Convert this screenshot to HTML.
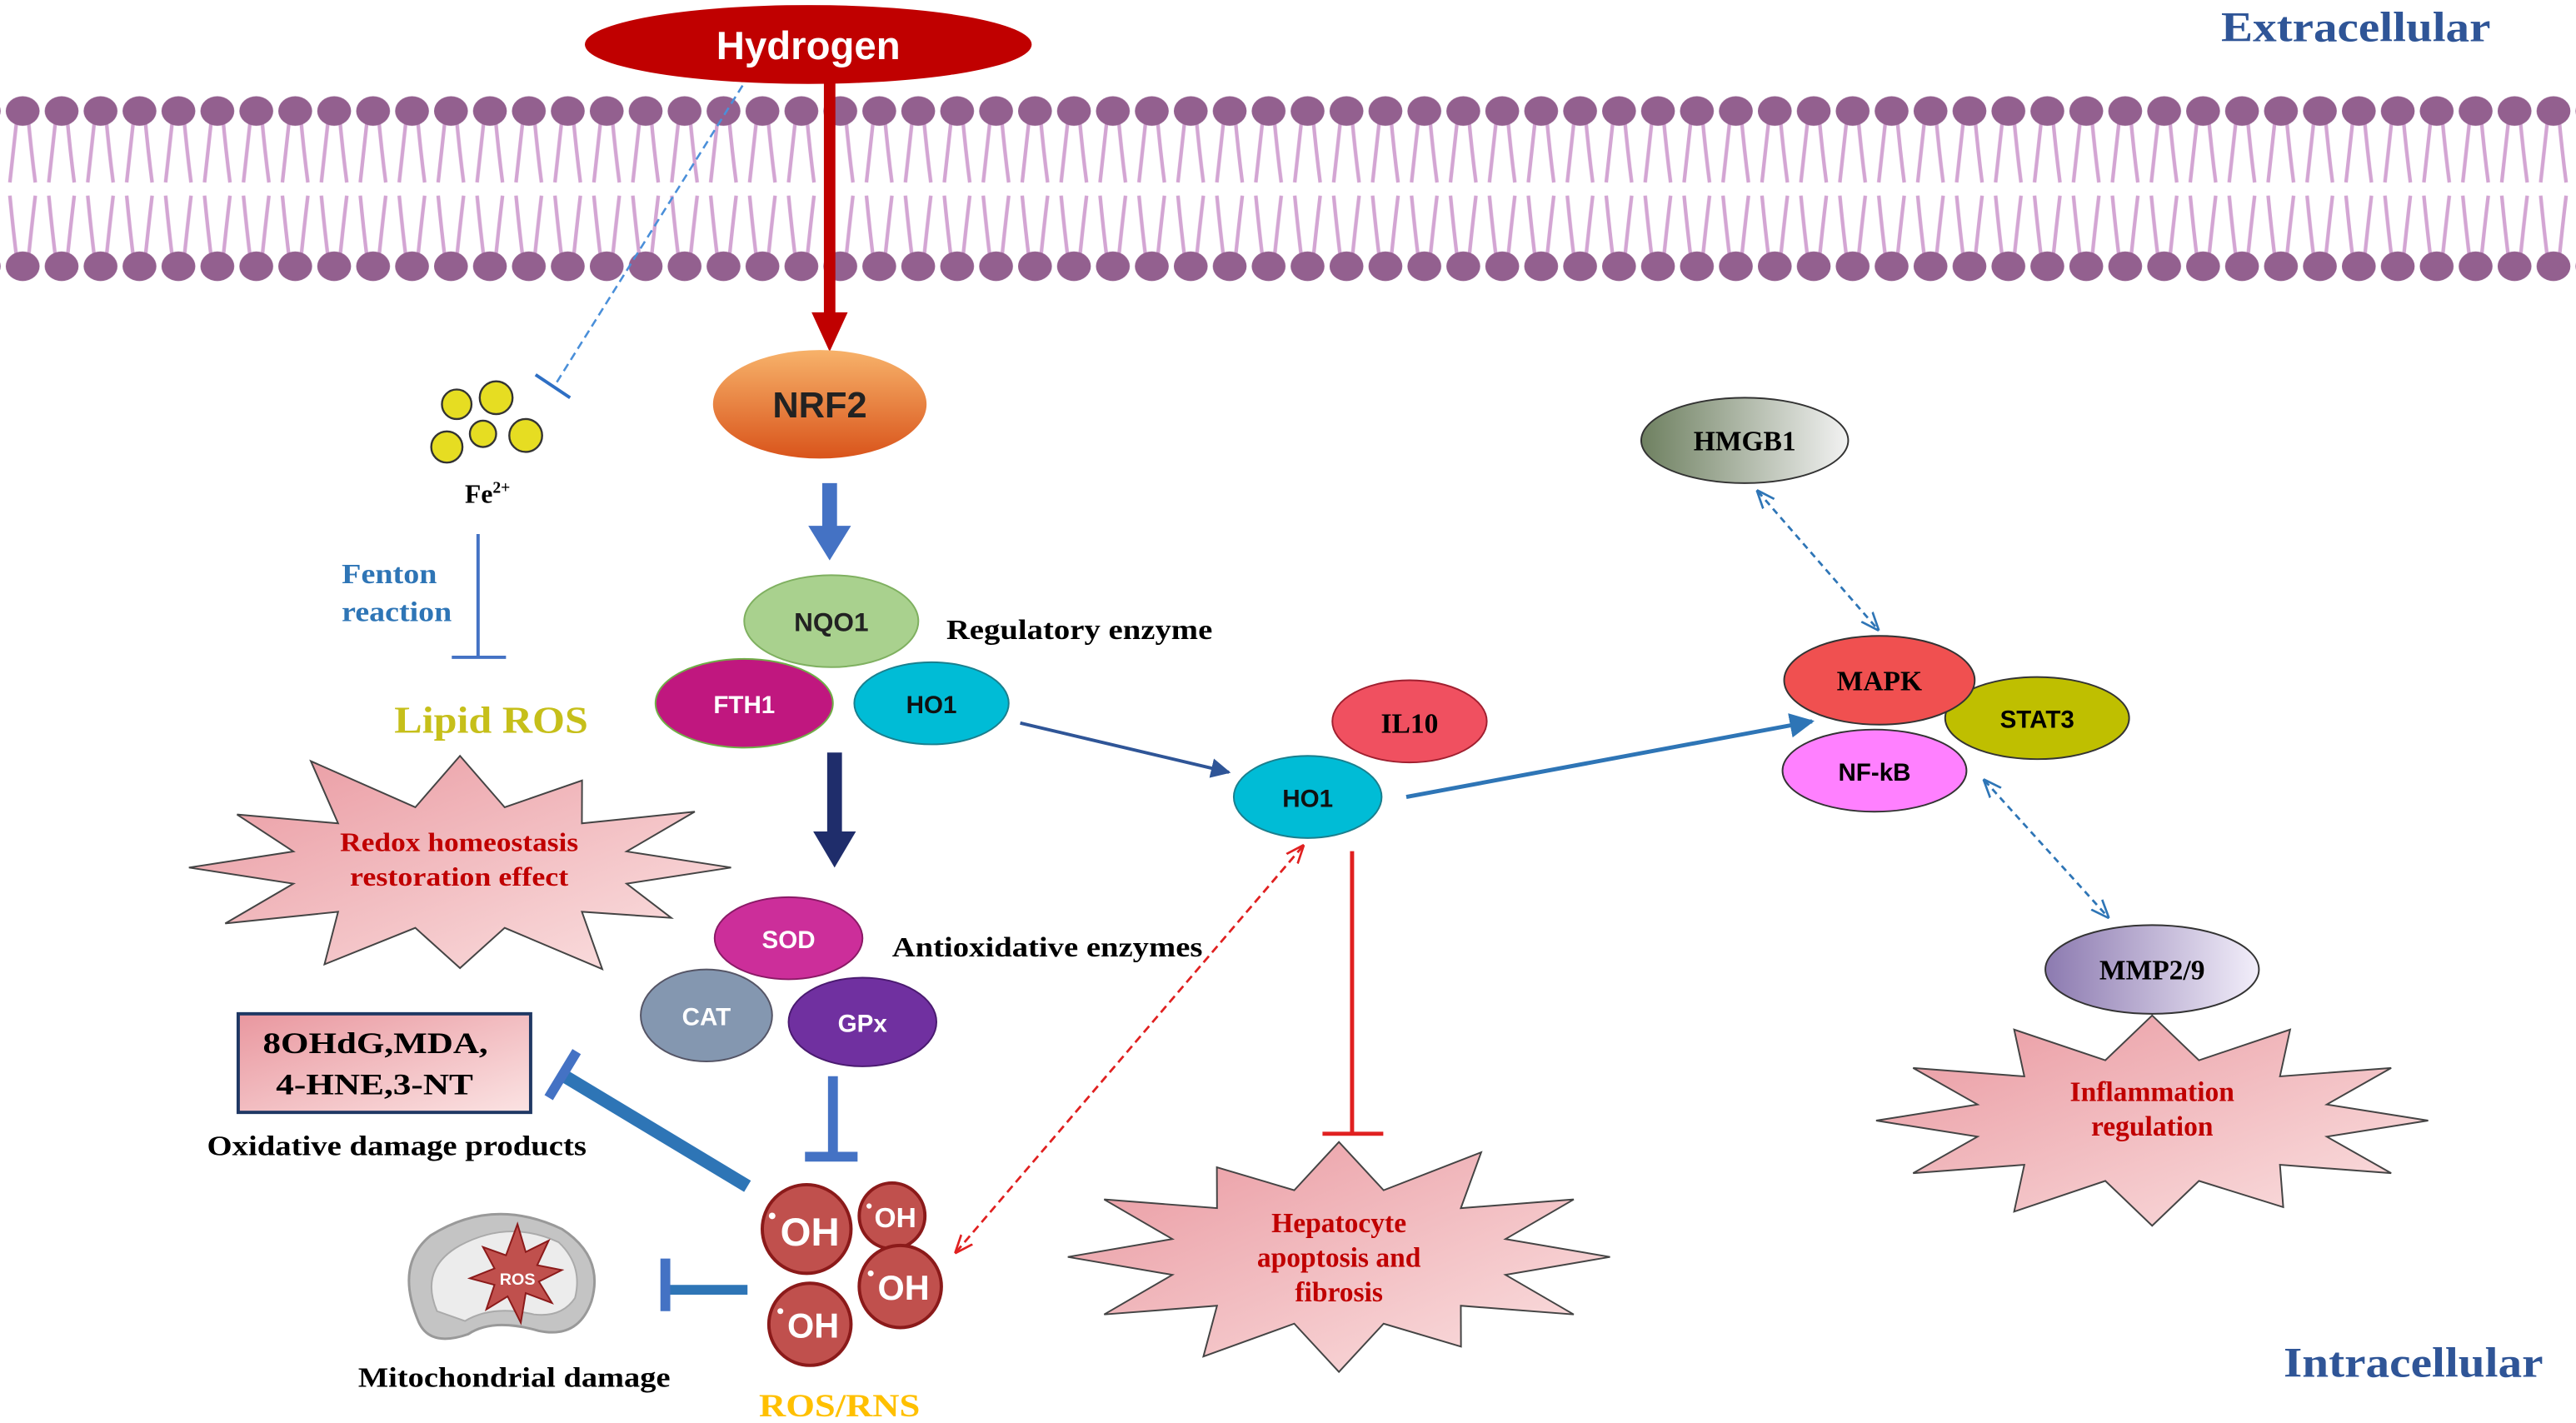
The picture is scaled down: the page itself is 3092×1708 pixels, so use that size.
<!DOCTYPE html>
<html><head><meta charset="utf-8"><style>
html,body{margin:0;padding:0;background:#fff}
svg{display:block}
text{font-family:"Liberation Serif",serif;font-weight:bold}
.s{font-family:"Liberation Sans",sans-serif}
</style></head><body>
<svg id="sv" width="3092" height="1708" viewBox="0 0 1568 866" xmlns="http://www.w3.org/2000/svg">
<defs>
<pattern id="lip" x="2" y="0" width="23.7" height="866" patternUnits="userSpaceOnUse">
<path d="M8.5 70 Q6 92 4 111 M15 70 Q17 92 19.5 111 M4 119 Q6 140 8.5 160 M19.5 119 Q17 140 15 160" stroke="#d3a5d3" stroke-width="2.2" fill="none"/>
<ellipse cx="11.8" cy="67.5" rx="10.3" ry="9" fill="#93608f"/>
<ellipse cx="11.8" cy="162" rx="10.3" ry="9" fill="#93608f"/>
</pattern>
<linearGradient id="nrf" x1="0" y1="0" x2="0" y2="1"><stop offset="0" stop-color="#f7b26a"/><stop offset="1" stop-color="#d9541b"/></linearGradient>
<linearGradient id="pk" x1="0" y1="0" x2="1" y2="1"><stop offset="0" stop-color="#e9979f"/><stop offset="1" stop-color="#fbe3e3"/></linearGradient>
<linearGradient id="hm" x1="0" y1="0" x2="1" y2="0"><stop offset="0" stop-color="#6e8060"/><stop offset="1" stop-color="#f2f2f2"/></linearGradient>
<linearGradient id="mm" x1="0" y1="0" x2="1" y2="0"><stop offset="0" stop-color="#8c7ab0"/><stop offset="1" stop-color="#f2eefa"/></linearGradient>
<marker id="ar" viewBox="0 0 10 10" refX="9" refY="5" markerWidth="6" markerHeight="6" orient="auto-start-reverse"><path d="M0 0L10 5L0 10z" fill="context-stroke"/></marker>
<marker id="ao" viewBox="0 0 10 10" refX="9" refY="5" markerWidth="8" markerHeight="8" orient="auto-start-reverse"><path d="M0 1L10 5L0 9" fill="none" stroke="context-stroke" stroke-width="1.2"/></marker>
</defs>
<rect x="0" y="50" width="1568" height="125" fill="url(#lip)"/>
<text x="1352" y="25" font-size="26" fill="#2f5597" textLength="164" lengthAdjust="spacingAndGlyphs">Extracellular</text>
<text x="1390" y="838" font-size="26" fill="#2f5597" textLength="158" lengthAdjust="spacingAndGlyphs">Intracellular</text>

<g id="stars"></g>
<text x="207" y="518" font-size="16" fill="#c00000" textLength="145" lengthAdjust="spacingAndGlyphs">Redox homeostasis</text>
<text x="213" y="539" font-size="16" fill="#c00000" textLength="133" lengthAdjust="spacingAndGlyphs">restoration effect</text>
<text x="815" y="750" text-anchor="middle" font-size="17" fill="#c00000">Hepatocyte</text>
<text x="815" y="771" text-anchor="middle" font-size="17" fill="#c00000">apoptosis and</text>
<text x="815" y="792" text-anchor="middle" font-size="17" fill="#c00000">fibrosis</text>
<text x="1310" y="670" text-anchor="middle" font-size="17" fill="#c00000">Inflammation</text>
<text x="1310" y="691" text-anchor="middle" font-size="17" fill="#c00000">regulation</text>

<line x1="505" y1="50" x2="505" y2="192" stroke="#c00000" stroke-width="7"/>
<path d="M494 190L516 190L505 214z" fill="#c00000"/>
<ellipse cx="492" cy="27" rx="136" ry="24" fill="#c00000"/>
<text class="s" x="492" y="36" text-anchor="middle" font-size="24" fill="#fff">Hydrogen</text>
<line x1="452" y1="52" x2="338" y2="234" stroke="#4a8fd9" stroke-width="1.3" stroke-dasharray="5,3"/>
<line x1="326" y1="228" x2="347" y2="242" stroke="#2e6fc4" stroke-width="2"/>

<g fill="#e6dd22" stroke="#333" stroke-width="1.2">
<circle cx="278" cy="246" r="9"/><circle cx="302" cy="242" r="10"/><circle cx="272" cy="272" r="9.5"/><circle cx="294" cy="264" r="8"/><circle cx="320" cy="265" r="10"/>
</g>
<text x="283" y="306" font-size="16">Fe<tspan font-size="10" dy="-6">2+</tspan></text>
<text x="208" y="355" font-size="17" fill="#2e75b6" textLength="58" lengthAdjust="spacingAndGlyphs">Fenton</text>
<text x="208" y="378" font-size="17" fill="#2e75b6" textLength="67" lengthAdjust="spacingAndGlyphs">reaction</text>
<line x1="291" y1="325" x2="291" y2="400" stroke="#4472c4" stroke-width="2"/>
<line x1="275" y1="400" x2="308" y2="400" stroke="#4472c4" stroke-width="2"/>
<text x="240" y="446" font-size="23" fill="#c6bf1a" textLength="118" lengthAdjust="spacingAndGlyphs">Lipid ROS</text>

<ellipse cx="499" cy="246" rx="65" ry="33" fill="url(#nrf)"/>
<text class="s" x="499" y="254" text-anchor="middle" font-size="22" fill="#222">NRF2</text>
<line x1="505" y1="294" x2="505" y2="322" stroke="#4472c4" stroke-width="9"/>
<path d="M492 320L518 320L505 341z" fill="#4472c4"/>
<ellipse cx="506" cy="378" rx="53" ry="28" fill="#a9d18e" stroke="#7fb060"/>
<text class="s" x="506" y="384" text-anchor="middle" font-size="16" fill="#222">NQO1</text>
<text x="576" y="389" font-size="17" textLength="162" lengthAdjust="spacingAndGlyphs">Regulatory enzyme</text>
<ellipse cx="453" cy="428" rx="54" ry="27" fill="#c0177f" stroke="#70ad47"/>
<text class="s" x="453" y="434" text-anchor="middle" font-size="15" fill="#fff">FTH1</text>
<ellipse cx="567" cy="428" rx="47" ry="25" fill="#00bcd6" stroke="#1a7f8e"/>
<text class="s" x="567" y="434" text-anchor="middle" font-size="15" fill="#111">HO1</text>
<line x1="508" y1="458" x2="508" y2="508" stroke="#1f2d6b" stroke-width="9"/>
<path d="M495 506L521 506L508 528z" fill="#1f2d6b"/>
<ellipse cx="480" cy="571" rx="45" ry="25" fill="#cc2e9a" stroke="#8a1a66"/>
<text class="s" x="480" y="577" text-anchor="middle" font-size="15" fill="#fff">SOD</text>
<ellipse cx="430" cy="618" rx="40" ry="28" fill="#8497b0" stroke="#556"/>
<text class="s" x="430" y="624" text-anchor="middle" font-size="15" fill="#fff">CAT</text>
<ellipse cx="525" cy="622" rx="45" ry="27" fill="#7030a0" stroke="#4a1a70"/>
<text class="s" x="525" y="628" text-anchor="middle" font-size="15" fill="#fff">GPx</text>
<text x="543" y="582" font-size="17" textLength="189" lengthAdjust="spacingAndGlyphs">Antioxidative enzymes</text>
<line x1="507" y1="655" x2="507" y2="703" stroke="#4472c4" stroke-width="6"/>
<line x1="490" y1="704" x2="522" y2="704" stroke="#4472c4" stroke-width="6"/>

<rect x="145" y="617" width="178" height="60" fill="url(#pk)" stroke="#1f3864" stroke-width="2"/>
<text x="160" y="641" font-size="18" textLength="137" lengthAdjust="spacingAndGlyphs">8OHdG,MDA,</text>
<text x="168" y="666" font-size="18" textLength="120" lengthAdjust="spacingAndGlyphs">4-HNE,3-NT</text>
<text x="126" y="703" font-size="17" textLength="231" lengthAdjust="spacingAndGlyphs">Oxidative damage products</text>
<line x1="455" y1="722" x2="342" y2="654" stroke="#2e75b6" stroke-width="8"/>
<line x1="334" y1="668" x2="351" y2="640" stroke="#4472c4" stroke-width="6"/>

<g fill="#c0504d" stroke="#8b1a1a" stroke-width="2">
<circle cx="491" cy="748" r="27"/><circle cx="543" cy="740" r="20"/><circle cx="548" cy="783" r="25"/><circle cx="493" cy="806" r="25"/>
</g>
<g fill="#fff" text-anchor="middle">
<text class="s" x="493" y="758" font-size="24">OH</text><text class="s" x="545" y="747" font-size="17">OH</text><text class="s" x="550" y="791" font-size="21">OH</text><text class="s" x="495" y="814" font-size="21">OH</text>
</g>
<g fill="#fff"><circle cx="470" cy="740" r="2"/><circle cx="529" cy="734" r="1.6"/><circle cx="530" cy="775" r="1.8"/><circle cx="475" cy="798" r="1.8"/></g>
<text x="462" y="862" font-size="20" fill="#ffc000" textLength="98" lengthAdjust="spacingAndGlyphs">ROS/RNS</text>

<path d="M255 805 Q240 770 262 752 Q300 728 342 748 Q368 765 360 792 Q352 815 328 810 Q300 802 285 812 Q262 820 255 805z" fill="#c4c4c4" stroke="#999" stroke-width="1.5"/>
<path d="M266 798 Q255 772 280 758 Q310 742 340 756 Q355 770 350 790 Q342 802 325 800 Q300 794 283 804z" fill="#ececec" stroke="#aaa"/>
<polygon points="315,745 320,762 334,755 327,770 342,773 328,780 336,793 320,787 317,805 309,789 296,797 301,782 286,778 301,772 294,759 308,764" fill="#c0504d" stroke="#8b1a1a"/>
<text class="s" x="315" y="782" text-anchor="middle" font-size="10" fill="#fff">ROS</text>
<line x1="455" y1="785" x2="407" y2="785" stroke="#2e75b6" stroke-width="6"/>
<line x1="405" y1="766" x2="405" y2="798" stroke="#4472c4" stroke-width="6"/>
<text x="218" y="844" font-size="17" textLength="190" lengthAdjust="spacingAndGlyphs">Mitochondrial damage</text>

<line x1="621" y1="440" x2="748" y2="470" stroke="#2f5597" stroke-width="2" marker-end="url(#ar)"/>
<ellipse cx="858" cy="439" rx="47" ry="25" fill="#f05060" stroke="#a02030"/>
<text x="858" y="446" text-anchor="middle" font-size="17">IL10</text>
<ellipse cx="796" cy="485" rx="45" ry="25" fill="#00bcd6" stroke="#1a7f8e"/>
<text class="s" x="796" y="491" text-anchor="middle" font-size="15" fill="#111">HO1</text>
<line x1="823" y1="518" x2="823" y2="690" stroke="#e02020" stroke-width="2.5"/>
<line x1="805" y1="690" x2="842" y2="690" stroke="#e02020" stroke-width="2.5"/>
<line x1="793" y1="515" x2="582" y2="762" stroke="#e02020" stroke-width="1.4" stroke-dasharray="5,3" marker-start="url(#ao)" marker-end="url(#ao)"/>
<line x1="856" y1="485" x2="1103" y2="439" stroke="#2e75b6" stroke-width="2.5" marker-end="url(#ar)"/>

<ellipse cx="1062" cy="268" rx="63" ry="26" fill="url(#hm)" stroke="#333"/>
<text x="1062" y="274" text-anchor="middle" font-size="17">HMGB1</text>
<line x1="1070" y1="299" x2="1143" y2="383" stroke="#2e75b6" stroke-width="1.4" stroke-dasharray="4,3" marker-start="url(#ao)" marker-end="url(#ao)"/>
<ellipse cx="1240" cy="437" rx="56" ry="25" fill="#bfbf00" stroke="#333"/>
<text class="s" x="1240" y="443" text-anchor="middle" font-size="15">STAT3</text>
<ellipse cx="1144" cy="414" rx="58" ry="27" fill="#f05050" stroke="#333"/>
<text x="1144" y="420" text-anchor="middle" font-size="17">MAPK</text>
<ellipse cx="1141" cy="469" rx="56" ry="25" fill="#ff80ff" stroke="#333"/>
<text class="s" x="1141" y="475" text-anchor="middle" font-size="15">NF-kB</text>
<line x1="1208" y1="475" x2="1283" y2="558" stroke="#2e75b6" stroke-width="1.4" stroke-dasharray="4,3" marker-start="url(#ao)" marker-end="url(#ao)"/>
<ellipse cx="1310" cy="590" rx="65" ry="27" fill="url(#mm)" stroke="#333"/>
<text x="1310" y="596" text-anchor="middle" font-size="17">MMP2/9</text>
</svg>
<script>
function star(cx,cy,ro,ri,n,pts){
 var s="";for(var i=0;i<2*n;i++){var a=Math.PI*i/n;var r=i%2?ri:ro;var k=pts&&pts[i]?pts[i]:1;s+=(cx+Math.cos(a)*r[0]*k).toFixed(1)+","+(cy+Math.sin(a)*r[1]*k).toFixed(1)+" ";}
 return '<polygon points="'+s+'" fill="url(#pk)" stroke="#444" stroke-width="1"/>';}
var g=document.getElementById("stars");
g.innerHTML=star(280,528,[165,68],[105,38],12,[1,1,0.9,1,1.05,1,0.9,1,1,1,1,1,1,1,0.95,1,1.1,1,1,1,0.9,1,1,1])+
star(815,765,[165,70],[105,42],12,[1,1,1,1,0.9,1,1,1,1,1,1,1,1,1,1,1,0.9,1,1,1,1.05,1,1,1])+
star(1310,682,[168,64],[110,38],12,[1,1,1,1,0.95,1,1,1,1,1,1,1,1,1,1,1,1,1,1,1,1,1,1,1]);
</script>
</body></html>
